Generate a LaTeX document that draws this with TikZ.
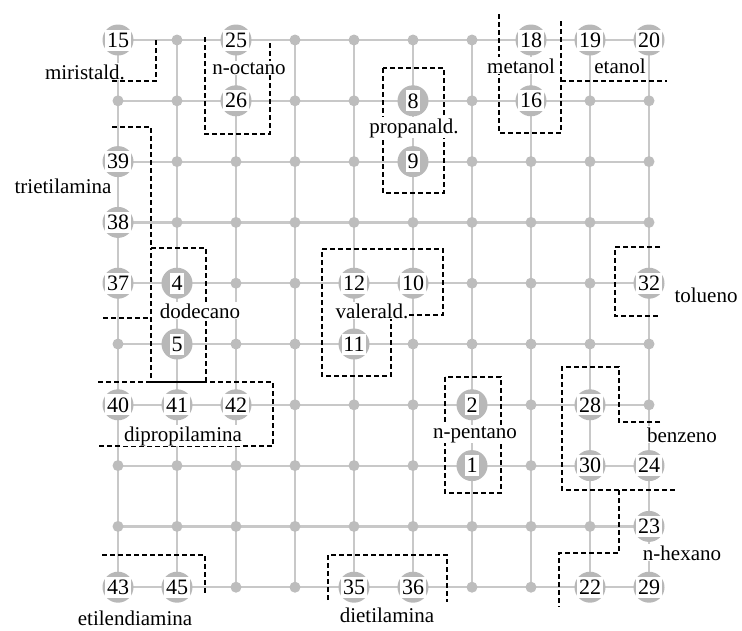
\documentclass[tikz,border=0pt]{standalone}
\usepackage{fontspec}
\setmainfont{Liberation Serif}
\definecolor{GridGray}{HTML}{C8C8C8}
\definecolor{DotGray}{HTML}{BDBDBD}
\definecolor{HaloGray}{HTML}{B8B8B8}
\tikzset{
  GridLine/.style={GridGray, line width=2.2pt},
  GridDot/.style={DotGray},
  Halo/.style={HaloGray},
  Unit/.style={fill=white, inner sep=1.8pt, minimum height=21pt,
      font=\fontsize{22}{24}\selectfont},
  Tag/.style={fill=white, inner sep=1pt, anchor=base,
      font=\fontsize{21}{24}\selectfont},
  Border/.style={black, line width=2.4pt, dash pattern=on 5pt off 3pt}
}

\begin{document}
\begin{tikzpicture}[x=1pt, y=-1pt]
  \useasboundingbox (0,0) rectangle (742,630);
  \def\Dx{59}
  \def\Dy{60.8}
  % map grid
  \foreach \c in {1,...,10}
    \foreach \r in {1,...,10}
      \coordinate (g\c-\r) at ({118+(\c-1)*\Dx},{40+(\r-1)*\Dy});
  \foreach \i in {1,...,10} {
    \draw[GridLine] (g1-\i) -- (g10-\i);
    \draw[GridLine] (g\i-1) -- (g\i-10);
  }
  \foreach \c in {1,...,10}
    \foreach \r in {1,...,10}
      \fill[GridDot] (g\c-\r) circle (5.5pt);

  % cluster borders
  \draw[Border] (112,81) -- (156,81) -- (156,38);
  \draw[Border] (205,37) -- (205,134) -- (270,134) -- (270,41);
  \draw[Border] (112,127) -- (151,127) -- (151,248);
  \draw[Border] (151,248) -- (206,248) -- (206,382) -- (151,382) -- cycle;
  \draw[Border] (103,318) -- (151,318);
  \draw[Border] (98,382) -- (273,382) -- (273,446) -- (98,446);
  \draw[Border] (383,68) rectangle (444,193);
  \draw[Border] (499,14) -- (499,133) -- (561,133) -- (561,20);
  \draw[Border] (561,81) -- (667,81);
  \draw[Border] (322,249) -- (443,249) -- (443,315) -- (391,315) -- (391,376) -- (322,376) -- cycle;
  \draw[Border] (660,247) -- (615,247) -- (615,316) -- (660,316);
  \draw[Border] (445,377) rectangle (501,493);
  \draw[Border] (660,422) -- (619,422) -- (619,367) -- (562,367) -- (562,490) -- (675,490);
  \draw[Border] (619,490) -- (619,553) -- (559,553) -- (559,607);
  \draw[Border] (102,555) -- (205,555) -- (205,593);
  \draw[Border] (328,600) -- (328,555) -- (447,555) -- (447,602);

  % winning units
  \foreach \n/\c/\r in {15/1/1, 25/3/1, 18/8/1, 19/9/1, 20/10/1,
      26/3/2, 8/6/2, 16/8/2, 39/1/3, 9/6/3, 38/1/4,
      37/1/5, 4/2/5, 12/5/5, 10/6/5, 32/10/5, 5/2/6, 11/5/6,
      40/1/7, 41/2/7, 42/3/7, 2/7/7, 28/9/7, 1/7/8, 30/9/8, 24/10/8,
      23/10/9, 43/1/10, 45/2/10, 35/5/10, 36/6/10, 22/9/10, 29/10/10} {
    \fill[Halo] (g\c-\r) circle (15.5pt);
    \node[Unit] (u\n) at (g\c-\r) {\n};
  }

  % compound names
  \node[Tag] (miristald) at (85,79) {miristald.};
  \node[Tag] (noctano) at (249,74) {n-octano};
  \node[Tag] (metanol) at (521,73) {metanol};
  \node[Tag] (etanol) at (620,73) {etanol};
  \node[Tag] (propanald) at (414,133) {propanald.};
  \node[Tag] (trietilamina) at (63,193) {trietilamina};
  \node[Tag] (dodecano) at (200,318) {dodecano};
  \node[Tag] (valerald) at (372,318) {valerald.};
  \node[Tag] (tolueno) at (706,302) {tolueno};
  \node[Tag] (dipropilamina) at (183,441) {dipropilamina};
  \node[Tag] (npentano) at (475,438) {n-pentano};
  \node[Tag] (benzeno) at (682,442) {benzeno};
  \node[Tag] (nhexano) at (682,560) {n-hexano};
  \node[Tag] (etilendiamina) at (135,625) {etilendiamina};
  \node[Tag] (dietilamina) at (387,622) {dietilamina};
\end{tikzpicture}
\end{document}
